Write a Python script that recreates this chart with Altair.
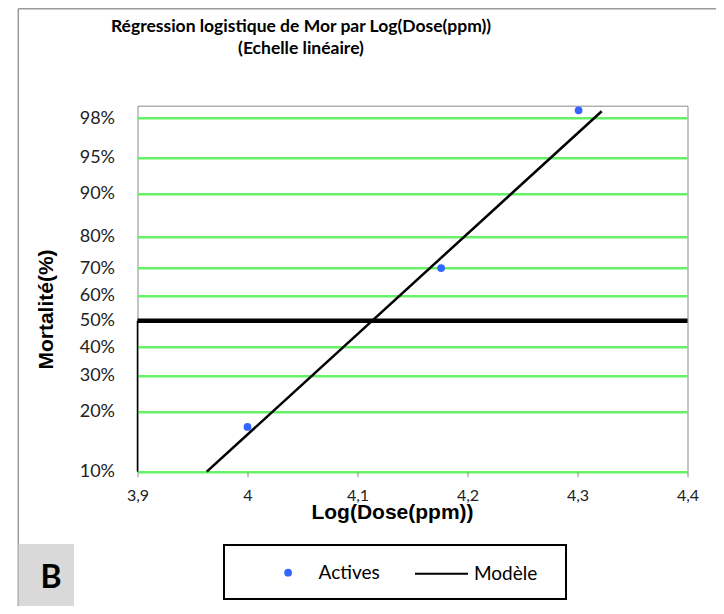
import altair as alt
import pandas as pd

# ---------------- data ----------------
dose_log = [4.0, 4.176, 4.301]            # Log(Dose(ppm)) of observed points
mort_probit = [3.932, 5.530, 7.118]       # mortality in probit units
model_log = [3.963, 4.322]                # model line end points (x)
model_probit = [3.482, 7.108]             # model line end points (probit)
grid_labels = ["10%", "20%", "30%", "40%", "50%", "60%", "70%", "80%", "90%", "95%", "98%"]
grid_probit = [3.482, 4.085, 4.447, 4.736, 5.0, 5.254, 5.530, 5.847, 6.279, 6.641, 7.040]
x_ticks = [3.9, 4.0, 4.1, 4.2, 4.3, 4.4]
x_domain = [3.9, 4.4]
y_domain = [3.482, 7.164]
median_probit = [5.0]

# ---------------- layout helpers (page pixels -> plot pixels) ----------------
PL, PT = 137.5, 105.7
W, H = 550, 366


def px(v):
    return v - PL


def py(v):
    return v - PT


df_pts = pd.DataFrame({"x": dose_log, "y": mort_probit, "serie": ["Actives"] * len(dose_log)})
df_mod = pd.DataFrame({"x": model_log, "y": model_probit, "modele": ["Modèle"] * len(model_log)})
df_med = pd.DataFrame({"y": median_probit})
df_axis = pd.DataFrame({"x": [x_domain[0]], "y": [y_domain[0]], "y2": median_probit})
deco = pd.DataFrame({"k": [0]})

xs = alt.Scale(domain=x_domain, nice=False, zero=False)
ys = alt.Scale(domain=y_domain, nice=False, zero=False)

label_expr_y = "[" + ",".join("'%s'" % s for s in grid_labels) + "][indexof([" + \
    ",".join(str(v) for v in grid_probit) + "], datum.value)]"

x_axis = alt.Axis(
    values=x_ticks, labelExpr="replace(toString(datum.value), '.', ',')",
    grid=False, domain=False, ticks=True, tickColor="#8a8a8a", tickSize=5, tickWidth=1,
    labelPadding=11, labelFont="Lato", labelFontSize=16, labelColor="#222222",
    labelFlush=False, labelOverlap=False,
    title="Log(Dose(ppm))", titleFont="Liberation Sans", titleFontSize=21,
    titleFontWeight="bold", titleColor="black", titleX=254.5, titleY=47,
    titleAlign="center", titleBaseline="alphabetic",
)
y_axis = alt.Axis(
    values=grid_probit, labelExpr=label_expr_y,
    grid=True, gridColor="#66f266", gridWidth=2.5, domain=False, ticks=False,
    labelPadding=23, labelFont="Lato", labelFontSize=18, labelColor="#222222",
    labelOverlap=False, labelFlush=False,
    title="Mortalité(%)", titleFont="Liberation Sans", titleFontSize=21,
    titleFontWeight="bold", titleColor="black", titleAngle=270,
    titleX=-85, titleY=203.3, titleAlign="center", titleBaseline="alphabetic",
)

X = alt.X("x:Q", scale=xs, axis=x_axis)
Y = alt.Y("y:Q", scale=ys, axis=y_axis)

points = alt.Chart(df_pts).mark_point(filled=True, size=60, opacity=1).encode(
    x=X, y=Y,
    color=alt.Color(
        "serie:N",
        scale=alt.Scale(domain=["Actives"], range=["#3366ff"]),
        legend=alt.Legend(
            title=None, orient="none", legendX=141.1, legendY=457.5,
            symbolType="circle", symbolSize=60, symbolStrokeWidth=0,
            labelFont="Lato", labelFontSize=19, labelColor="black", labelOffset=21,
            padding=0,
        ),
    ),
)

median = alt.Chart(df_med).mark_rule(color="black", strokeWidth=4.5).encode(y=Y)

left_seg = alt.Chart(df_axis).mark_rule(color="black", strokeWidth=1.5).encode(
    x=X, y=Y, y2="y2:Q",
)

model = alt.Chart(df_mod).mark_line(strokeWidth=2.5).encode(
    x=X, y=Y,
    stroke=alt.Stroke(
        "modele:N",
        scale=alt.Scale(domain=["Modèle"], range=["black"]),
        legend=alt.Legend(
            title=None, orient="none", legendX=276.5, legendY=440.5,
            symbolType="stroke", symbolSize=2809, symbolStrokeWidth=2,
            labelFont="Lato", labelFontSize=19, labelColor="black", labelOffset=5,
            padding=0,
        ),
    ),
)

frame_left = alt.Chart(deco).mark_rule(color="#9a9a9a", strokeWidth=1.5).encode(
    x=alt.value(px(18.3)), y=alt.value(py(8.75)), y2=alt.value(py(614))
)
frame_top = alt.Chart(deco).mark_rule(color="#9a9a9a", strokeWidth=1.5).encode(
    x=alt.value(px(18.3)), x2=alt.value(px(724)), y=alt.value(py(8.75))
)
legend_box = alt.Chart(deco).mark_rect(fillOpacity=0, stroke="black", strokeWidth=2).encode(
    x=alt.value(px(224)), x2=alt.value(px(566)), y=alt.value(py(545)), y2=alt.value(py(599))
)
b_box = alt.Chart(deco).mark_rect(color="#d9d9d9").encode(
    x=alt.value(px(18.6)), x2=alt.value(px(74)), y=alt.value(py(544)), y2=alt.value(py(614))
)
b_text = alt.Chart(deco).mark_text(
    text="B", font="Lato", fontSize=32, fontWeight="bold", align="center",
    baseline="alphabetic", color="black"
).encode(x=alt.value(px(51)), y=alt.value(py(588.3)))

chart = alt.layer(
    median, left_seg, model, points,
    frame_left, frame_top, b_box, b_text, legend_box,
).properties(
    width=W, height=H,
    padding={"left": PL - 8, "top": PT - 8, "right": 708 - (PL - 8) - W, "bottom": 598 - (PT - 8) - H},
    autosize=alt.AutoSizeParams(type="none"),
    title=alt.TitleParams(
        text=["Régression logistique de Mor par Log(Dose(ppm))", "(Echelle linéaire)"],
        font="Lato", fontSize=17.5, fontWeight="bold", color="black",
        anchor="middle", frame="group", dx=-111.5, dy=63.3, offset=0,
        baseline="alphabetic", lineHeight=21.6,
    ),
).configure_view(stroke="#8a8a8a", strokeWidth=1)

chart.save("out.html", embed_options={"renderer": "svg", "actions": False})
